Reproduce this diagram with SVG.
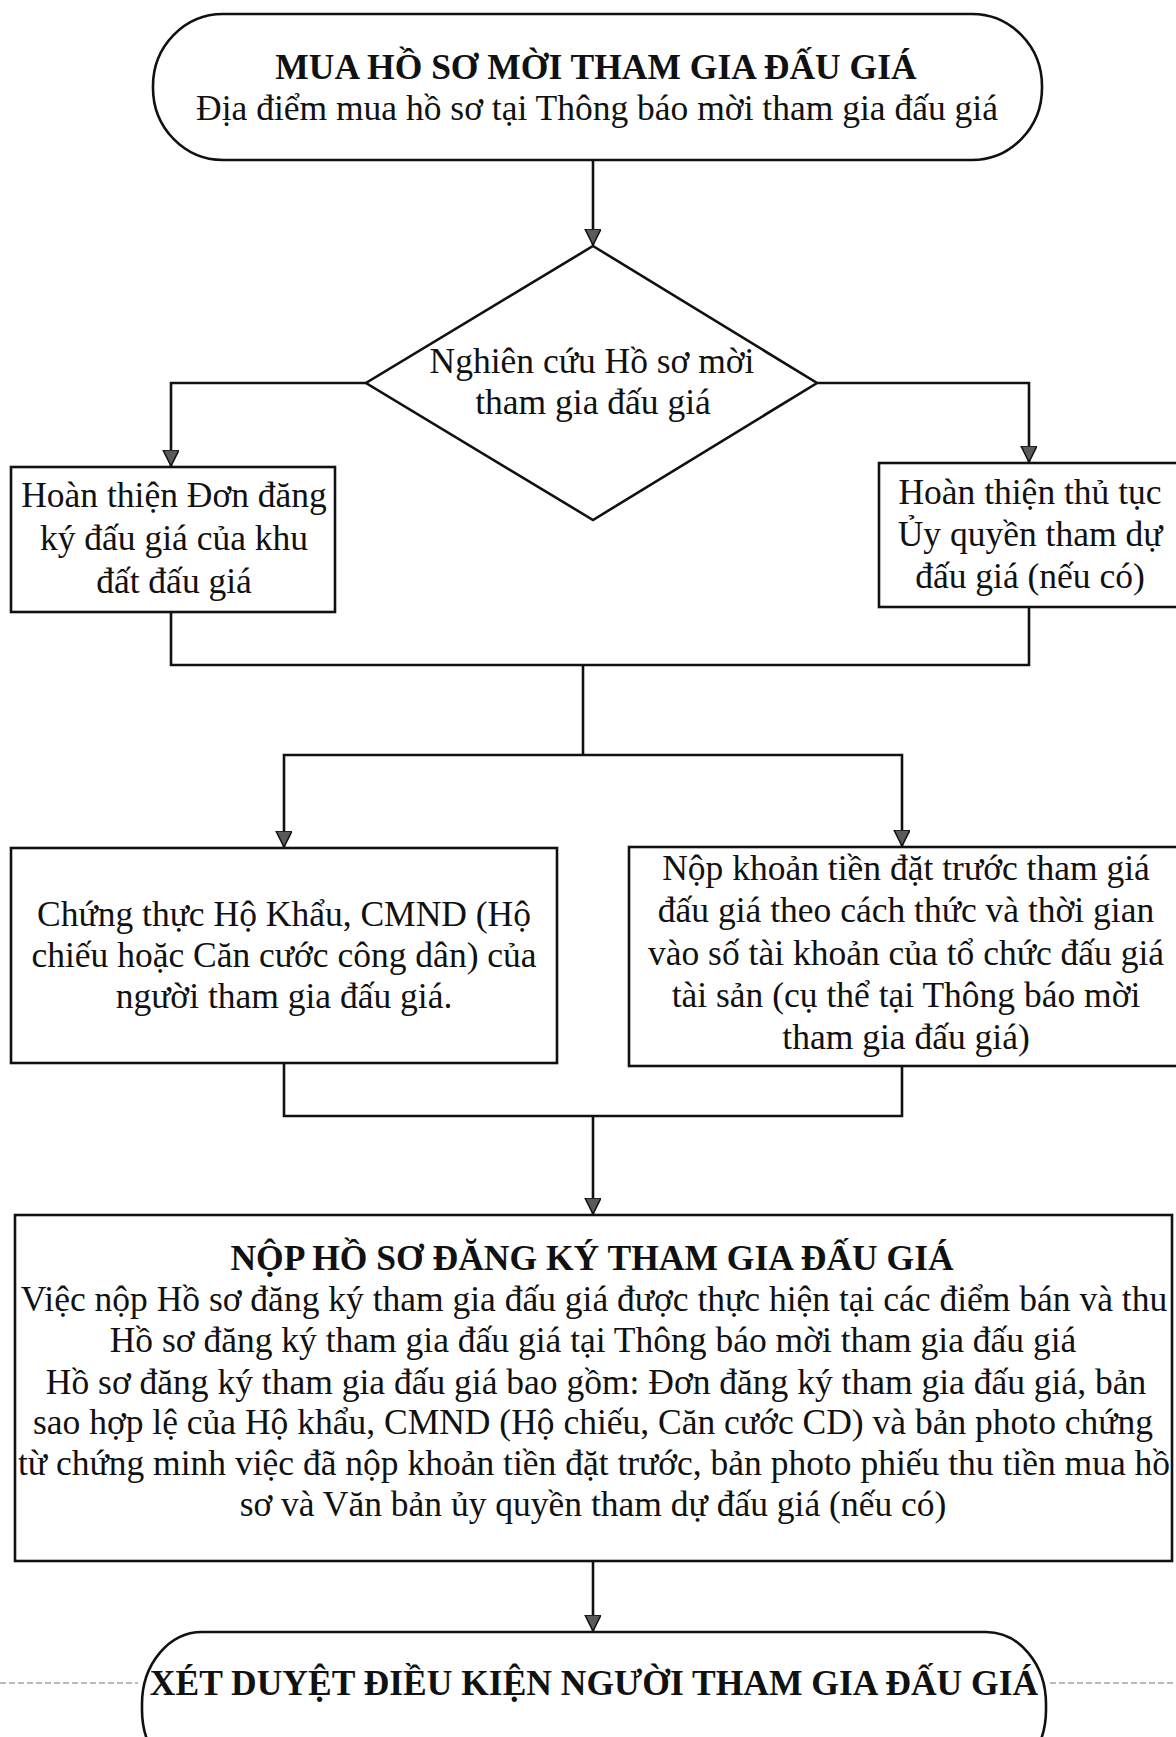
<svg xmlns="http://www.w3.org/2000/svg" width="1176" height="1737" viewBox="0 0 1176 1737">
<style>
.shape{fill:#fff;stroke:#111;stroke-width:2.6}
.con{fill:none;stroke:#111;stroke-width:2.6}
.t{font-family:'Liberation Serif','Times New Roman','DejaVu Serif',serif;font-size:35.5px;fill:#111;text-anchor:middle}
.b{font-weight:bold}
.art{stroke:#777;stroke-width:1.2;stroke-dasharray:6 3;fill:none}
</style>
<defs>
<marker id="arr" markerUnits="userSpaceOnUse" markerWidth="18" markerHeight="18" refX="16" refY="8" orient="auto">
<path d="M0,0 L16,8 L0,16 Z" fill="#5a5a5a" stroke="#111" stroke-width="1.5"/>
</marker>
</defs>
<rect width="1176" height="1737" fill="#fff"/>

<g id="connectors">
<path class="con" d="M593,160 L593,245" marker-end="url(#arr)"/>
<path class="con" d="M366,383 L171,383 L171,466" marker-end="url(#arr)"/>
<path class="con" d="M817,383 L1029,383 L1029,462" marker-end="url(#arr)"/>
<path class="con" d="M171,612 L171,665 L1029,665 L1029,607"/>
<path class="con" d="M583,665 L583,755"/>
<path class="con" d="M583,755 L284,755 L284,847" marker-end="url(#arr)"/>
<path class="con" d="M583,755 L902,755 L902,846" marker-end="url(#arr)"/>
<path class="con" d="M284,1063 L284,1116 L902,1116 L902,1066"/>
<path class="con" d="M593,1116 L593,1214" marker-end="url(#arr)"/>
<path class="con" d="M593,1561 L593,1631" marker-end="url(#arr)"/>
</g>

<g id="start">
<rect class="shape" x="153" y="14" width="889" height="146" rx="70" ry="72"/>
<text class="t b" x="596" y="79">MUA HỒ SƠ MỜI THAM GIA ĐẤU GIÁ</text>
<text class="t" x="597" y="120">Địa điểm mua hồ sơ tại Thông báo mời tham gia đấu giá</text>
</g>

<g id="decision">
<polygon class="shape" points="593,246 817,383 593,520 366,383"/>
<text class="t" x="592" y="373">Nghiên cứu Hồ sơ mời</text>
<text class="t" x="593" y="414">tham gia đấu giá</text>
</g>

<g id="don-dang-ky">
<rect class="shape" x="11" y="467" width="324" height="145"/>
<text class="t" x="174" y="507">Hoàn thiện Đơn đăng</text>
<text class="t" x="174" y="550">ký đấu giá của khu</text>
<text class="t" x="174" y="593">đất đấu giá</text>
</g>

<g id="uy-quyen">
<rect class="shape" x="879" y="463" width="302" height="144"/>
<text class="t" x="1030" y="504">Hoàn thiện thủ tục</text>
<text class="t" x="1030" y="546">Ủy quyền tham dự</text>
<text class="t" x="1030" y="588">đấu giá (nếu có)</text>
</g>

<g id="chung-thuc">
<rect class="shape" x="11" y="848" width="546" height="215"/>
<text class="t" x="284" y="926">Chứng thực Hộ Khẩu, CMND (Hộ</text>
<text class="t" x="284" y="967">chiếu hoặc Căn cước công dân) của</text>
<text class="t" x="284" y="1008">người tham gia đấu giá.</text>
</g>

<g id="nop-tien">
<rect class="shape" x="629" y="847" width="552" height="219"/>
<text class="t" x="906" y="880">Nộp khoản tiền đặt trước tham giá</text>
<text class="t" x="906" y="922">đấu giá theo cách thức và thời gian</text>
<text class="t" x="906" y="965">vào số tài khoản của tổ chức đấu giá</text>
<text class="t" x="906" y="1007">tài sản (cụ thể tại Thông báo mời</text>
<text class="t" x="906" y="1049">tham gia đấu giá)</text>
</g>

<g id="nop-ho-so">
<rect class="shape" x="15" y="1215" width="1157" height="346"/>
<text class="t b" x="592" y="1270">NỘP HỒ SƠ ĐĂNG KÝ THAM GIA ĐẤU GIÁ</text>
<text class="t" x="594" y="1311">Việc nộp Hồ sơ đăng ký tham gia đấu giá được thực hiện tại các điểm bán và thu</text>
<text class="t" x="593" y="1352">Hồ sơ đăng ký tham gia đấu giá tại Thông báo mời tham gia đấu giá</text>
<text class="t" x="596" y="1394">Hồ sơ đăng ký tham gia đấu giá bao gồm: Đơn đăng ký tham gia đấu giá, bản</text>
<text class="t" x="593" y="1434">sao hợp lệ của Hộ khẩu, CMND (Hộ chiếu, Căn cước CD) và bản photo chứng</text>
<text class="t" x="594" y="1475">từ chứng minh việc đã nộp khoản tiền đặt trước, bản photo phiếu thu tiền mua hồ</text>
<text class="t" x="593" y="1516">sơ và Văn bản ủy quyền tham dự đấu giá (nếu có)</text>
</g>

<g id="end">
<line class="art" x1="0" y1="1683" x2="138" y2="1683"/>
<line class="art" x1="1050" y1="1683" x2="1176" y2="1683"/>
<rect class="shape" x="142" y="1632" width="904" height="150" rx="60" ry="72"/>
<text class="t b" x="594" y="1695">XÉT DUYỆT ĐIỀU KIỆN NGƯỜI THAM GIA ĐẤU GIÁ</text>
</g>
</svg>
